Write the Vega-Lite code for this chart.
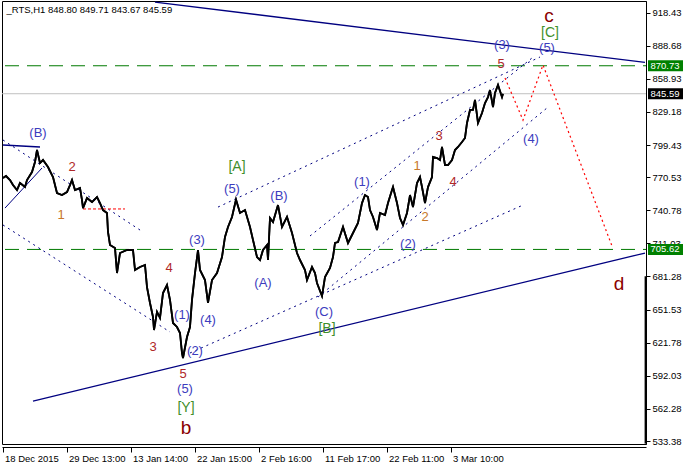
{
 "$schema": "https://vega.github.io/schema/vega-lite/v6.json",
 "width": 644, "height": 443,
 "autosize": {"type": "none"},
 "padding": {"left": 2, "top": 1, "right": 40, "bottom": 26},
 "background": "white",
 "config": {
  "view": {"stroke": "black", "strokeWidth": 1},
  "axis": {"labelFont": "Liberation Sans", "labelFontSize": 9.5, "labelColor": "black", "tickColor": "black", "domainColor": "black", "grid": false, "title": null, "labelOverlap": false, "labelFlush": false, "labelBound": false}
 },
 "title": {"text": "_RTS,H1  848.80 849.71 843.67 845.59", "anchor": "start", "frame": "group", "orient": "top", "offset": -13, "baseline": "top", "dx": 4.5, "font": "Liberation Sans", "fontSize": 9.5, "fontWeight": "normal", "color": "black"},
 "datasets": {
  "price": [
   {"bar":0,"price":769.8},{"bar":3,"price":771.6},{"bar":7,"price":768.0},{"bar":10,"price":763.5},{"bar":14,"price":759.0},{"bar":17,"price":765.3},{"bar":22,"price":761.7},{"bar":24,"price":768.0},{"bar":29,"price":775.2},{"bar":32,"price":784.2},{"bar":34,"price":795.0},{"bar":37,"price":783.3},{"bar":40,"price":786.0},{"bar":45,"price":779.7},{"bar":50,"price":770.7},{"bar":54,"price":756.3},{"bar":59,"price":754.5},{"bar":64,"price":757.2},{"bar":67,"price":763.5},{"bar":69,"price":768.0},{"bar":72,"price":759.0},{"bar":77,"price":760.8},{"bar":79,"price":750.0},{"bar":80,"price":742.8},{"bar":84,"price":751.8},{"bar":89,"price":748.2},{"bar":94,"price":752.7},{"bar":97,"price":747.3},{"bar":100,"price":741.0},{"bar":104,"price":738.4},{"bar":105,"price":721.3},{"bar":107,"price":709.6},{"bar":112,"price":706.9},{"bar":114,"price":684.4},{"bar":117,"price":702.4},{"bar":124,"price":705.1},{"bar":130,"price":705.1},{"bar":132,"price":687.1},{"bar":137,"price":689.8},{"bar":142,"price":691.6},{"bar":144,"price":671.8},{"bar":147,"price":657.5},{"bar":150,"price":644.9},{"bar":151,"price":633.2},{"bar":154,"price":649.4},{"bar":157,"price":644.0},{"bar":160,"price":666.4},{"bar":164,"price":673.6},{"bar":167,"price":660.2},{"bar":170,"price":639.5},{"bar":174,"price":635.9},{"bar":177,"price":630.5},{"bar":179,"price":612.5},{"bar":180,"price":608.0},{"bar":184,"price":626.9},{"bar":187,"price":635.9},{"bar":189,"price":660.2},{"bar":192,"price":684.4},{"bar":195,"price":705.1},{"bar":197,"price":687.1},{"bar":202,"price":678.1},{"bar":205,"price":657.5},{"bar":209,"price":678.1},{"bar":214,"price":684.4},{"bar":219,"price":698.8},{"bar":222,"price":716.8},{"bar":225,"price":725.8},{"bar":229,"price":734.8},{"bar":233,"price":750.5},{"bar":237,"price":738.4},{"bar":242,"price":741.0},{"bar":247,"price":725.8},{"bar":250,"price":714.1},{"bar":254,"price":698.8},{"bar":257,"price":696.1},{"bar":260,"price":705.1},{"bar":264,"price":709.6},{"bar":265,"price":696.1},{"bar":267,"price":733.8},{"bar":270,"price":730.3},{"bar":275,"price":745.5},{"bar":279,"price":725.8},{"bar":284,"price":734.8},{"bar":289,"price":720.4},{"bar":294,"price":702.4},{"bar":297,"price":696.1},{"bar":302,"price":687.1},{"bar":304,"price":678.1},{"bar":309,"price":689.8},{"bar":312,"price":684.4},{"bar":314,"price":675.4},{"bar":319,"price":663.7},{"bar":322,"price":680.8},{"bar":327,"price":688.9},{"bar":330,"price":698.8},{"bar":332,"price":711.4},{"bar":335,"price":712.3},{"bar":340,"price":725.8},{"bar":345,"price":711.4},{"bar":350,"price":720.4},{"bar":355,"price":729.4},{"bar":359,"price":747.3},{"bar":362,"price":754.5},{"bar":365,"price":752.7},{"bar":367,"price":741.0},{"bar":370,"price":734.8},{"bar":374,"price":723.1},{"bar":377,"price":738.4},{"bar":382,"price":736.6},{"bar":385,"price":747.3},{"bar":389,"price":759.0},{"bar":390,"price":761.7},{"bar":394,"price":747.3},{"bar":397,"price":733.8},{"bar":400,"price":727.6},{"bar":404,"price":738.4},{"bar":407,"price":754.5},{"bar":410,"price":743.7},{"bar":414,"price":765.3},{"bar":417,"price":770.7},{"bar":419,"price":761.7},{"bar":422,"price":747.3},{"bar":425,"price":761.7},{"bar":429,"price":770.7},{"bar":430,"price":788.7},{"bar":434,"price":787.8},{"bar":437,"price":786.0},{"bar":439,"price":797.7},{"bar":442,"price":781.5},{"bar":445,"price":781.5},{"bar":449,"price":786.0},{"bar":452,"price":795.0},{"bar":455,"price":797.7},{"bar":459,"price":802.2},{"bar":462,"price":805.8},{"bar":464,"price":819.3},{"bar":467,"price":831.0},{"bar":470,"price":831.0},{"bar":472,"price":840.0},{"bar":475,"price":819.3},{"bar":479,"price":828.3},{"bar":482,"price":837.2},{"bar":485,"price":842.6},{"bar":487,"price":848.9},{"bar":490,"price":833.6},{"bar":492,"price":846.2},{"bar":495,"price":853.4},{"bar":499,"price":842.6},{"bar":500,"price":845.6}
  ],
  "segs": [
   {"seg":"t1","kind":"solid","bar":152,"price":928.0},{"seg":"t1","kind":"solid","bar":642,"price":873.7},
   {"seg":"b1","kind":"solid","bar":30,"price":569.3},{"seg":"b1","kind":"solid","bar":642,"price":702.4},
   {"seg":"h1","kind":"solid","bar":0,"price":799.5},{"seg":"h1","kind":"solid","bar":37,"price":797.7},
   {"seg":"s1","kind":"thin","bar":2,"price":742.8},{"seg":"s1","kind":"thin","bar":39,"price":778.8},
   {"seg":"d1","kind":"dot","bar":0,"price":804.0},{"seg":"d1","kind":"dot","bar":140,"price":721.3},
   {"seg":"d2","kind":"dot","bar":0,"price":727.6},{"seg":"d2","kind":"dot","bar":167,"price":631.4},
   {"seg":"d3","kind":"dot","bar":215,"price":743.7},{"seg":"d3","kind":"dot","bar":537,"price":878.6},
   {"seg":"d4","kind":"dot","bar":307,"price":717.7},{"seg":"d4","kind":"dot","bar":529,"price":877.7},
   {"seg":"d5","kind":"dot","bar":315,"price":662.8},{"seg":"d5","kind":"dot","bar":544,"price":832.8},
   {"seg":"d6","kind":"dot","bar":187,"price":612.5},{"seg":"d6","kind":"dot","bar":520,"price":745.5},
   {"seg":"r1","kind":"reddash","bar":80,"price":742.0},{"seg":"r1","kind":"reddash","bar":122,"price":742.0},
   {"seg":"p1","kind":"proj","bar":502,"price":859.7},{"seg":"p1","kind":"proj","bar":520,"price":821.9},{"seg":"p1","kind":"proj","bar":540,"price":871.4},{"seg":"p1","kind":"proj","bar":609,"price":708.7}
  ],
  "levels": [
   {"price":870.73,"kind":"green"},{"price":705.62,"kind":"green"},{"price":845.59,"kind":"gray"}
  ],
  "labels": [
   {"t":"(B)","kind":"w","bar":35,"price":810.3},
   {"t":"2","kind":"n","bar":69,"price":779.7},
   {"t":"1","kind":"o","bar":58,"price":736.6},
   {"t":"4","kind":"n","bar":166,"price":688.9},
   {"t":"3","kind":"n","bar":150,"price":617.9},
   {"t":"(1)","kind":"w","bar":179,"price":646.6},
   {"t":"(3)","kind":"w","bar":194,"price":714.1},
   {"t":"(4)","kind":"w","bar":205,"price":642.2},
   {"t":"(2)","kind":"w","bar":192,"price":614.3},
   {"t":"5","kind":"n","bar":180,"price":593.6},
   {"t":"(5)","kind":"w","bar":182,"price":580.1},
   {"t":"[Y]","kind":"g","bar":183,"price":563.1},
   {"t":"b","kind":"big","bar":183,"price":545.1},
   {"t":"[A]","kind":"g","bar":234,"price":779.7},
   {"t":"(5)","kind":"w","bar":229,"price":759.9},
   {"t":"(B)","kind":"w","bar":276,"price":753.6},
   {"t":"(A)","kind":"w","bar":260,"price":675.4},
   {"t":"(C)","kind":"w","bar":321,"price":649.4},
   {"t":"[B]","kind":"g","bar":324,"price":634.1},
   {"t":"(1)","kind":"w","bar":359,"price":766.2},
   {"t":"(2)","kind":"w","bar":405,"price":710.5},
   {"t":"1","kind":"o","bar":414,"price":780.6},
   {"t":"2","kind":"o","bar":422,"price":734.8},
   {"t":"3","kind":"n","bar":436,"price":807.6},
   {"t":"4","kind":"n","bar":450,"price":766.2},
   {"t":"5","kind":"n","bar":498,"price":872.3},
   {"t":"(3)","kind":"w","bar":499,"price":889.4},
   {"t":"(5)","kind":"w","bar":544,"price":886.7},
   {"t":"[C]","kind":"g","bar":547,"price":900.6},
   {"t":"c","kind":"big","bar":546,"price":915.6},
   {"t":"(4)","kind":"w","bar":528,"price":804.9},
   {"t":"d","kind":"big","bar":616,"price":674.5}
  ]
 },
 "layer": [
  {"data": {"name": "price"}, "mark": {"type": "line", "color": "black", "strokeWidth": 1.8},
   "encoding": {
    "x": {"field": "bar", "type": "quantitative", "scale": {"domain": [-1, 643], "nice": false, "zero": false},
     "axis": {"orient": "bottom", "values": [0, 64, 128, 192, 256, 320, 384, 448], "tickCount": 20, "labelExpr": "['18 Dec 2015','29 Dec 13:00','13 Jan 14:00','22 Jan 15:00','2 Feb 16:00','11 Feb 17:00','22 Feb 11:00','3 Mar 10:00'][round(datum.value/64)]", "labelAlign": "left", "labelOffset": 1.5, "labelPadding": 1, "tickSize": 5, "offset": 3, "domain": true, "labelFlush": false, "labelOverlap": false, "labelBound": false}},
    "y": {"field": "price", "type": "quantitative", "scale": {"domain": [530.7, 928.95], "nice": false, "zero": false},
     "axis": {"orient": "right", "values": [918.43, 888.68, 858.93, 829.18, 799.43, 770.53, 740.78, 711.03, 681.28, 651.53, 621.78, 592.03, 562.28, 533.38], "tickCount": 30, "format": ".2f", "tickSize": 4, "labelPadding": 2, "labelBaseline": "middle", "labelFlush": false, "labelOverlap": false, "domain": true}}
   }},
  {"data": {"name": "levels"}, "transform": [{"filter": "datum.kind == 'gray'"}], "mark": {"type": "rule", "color": "#c0c0c0", "strokeWidth": 1}, "encoding": {"x": {"datum": -1, "type": "quantitative"}, "x2": {"datum": 643}, "y": {"field": "price", "type": "quantitative"}}},
  {"data": {"name": "levels"}, "transform": [{"filter": "datum.kind == 'green'"}], "mark": {"type": "rule", "color": "#007a00", "strokeWidth": 1, "strokeDash": [14, 8]}, "encoding": {"x": {"datum": 2, "type": "quantitative"}, "x2": {"datum": 643}, "y": {"field": "price", "type": "quantitative"}}},
  {"data": {"name": "segs"}, "transform": [{"filter": "datum.kind == 'solid'"}], "mark": {"type": "line", "color": "#000080", "strokeWidth": 1.3, "clip": true}, "encoding": {"x": {"field": "bar", "type": "quantitative"}, "y": {"field": "price", "type": "quantitative"}, "detail": {"field": "seg"}}},
  {"data": {"name": "segs"}, "transform": [{"filter": "datum.kind == 'thin'"}], "mark": {"type": "line", "color": "#000080", "strokeWidth": 1, "clip": true}, "encoding": {"x": {"field": "bar", "type": "quantitative"}, "y": {"field": "price", "type": "quantitative"}, "detail": {"field": "seg"}}},
  {"data": {"name": "segs"}, "transform": [{"filter": "datum.kind == 'dot'"}], "mark": {"type": "line", "color": "#000080", "strokeWidth": 1, "strokeDash": [2, 4], "clip": true}, "encoding": {"x": {"field": "bar", "type": "quantitative"}, "y": {"field": "price", "type": "quantitative"}, "detail": {"field": "seg"}}},
  {"data": {"name": "segs"}, "transform": [{"filter": "datum.kind == 'reddash'"}], "mark": {"type": "line", "color": "#ff0000", "strokeWidth": 1, "strokeDash": [3, 2]}, "encoding": {"x": {"field": "bar", "type": "quantitative"}, "y": {"field": "price", "type": "quantitative"}, "detail": {"field": "seg"}}},
  {"data": {"name": "segs"}, "transform": [{"filter": "datum.kind == 'proj'"}], "mark": {"type": "line", "color": "#ff0000", "strokeWidth": 1.2, "strokeDash": [2, 3]}, "encoding": {"x": {"field": "bar", "type": "quantitative"}, "y": {"field": "price", "type": "quantitative"}, "detail": {"field": "seg"}, "order": {"field": "bar"}}},
  {"data": {"name": "price"}, "mark": {"type": "line", "color": "black", "strokeWidth": 1.8}, "encoding": {"x": {"field": "bar", "type": "quantitative"}, "y": {"field": "price", "type": "quantitative"}}},
  {"data": {"name": "labels"}, "transform": [{"filter": "datum.kind == 'w'"}], "mark": {"type": "text", "font": "Liberation Sans", "fontSize": 13, "color": "#3c3cbe", "align": "center", "baseline": "middle"}, "encoding": {"x": {"field": "bar", "type": "quantitative"}, "y": {"field": "price", "type": "quantitative"}, "text": {"field": "t"}}},
  {"data": {"name": "labels"}, "transform": [{"filter": "datum.kind == 'g'"}], "mark": {"type": "text", "font": "Liberation Sans", "fontSize": 14, "color": "#3f8f2a", "align": "center", "baseline": "middle"}, "encoding": {"x": {"field": "bar", "type": "quantitative"}, "y": {"field": "price", "type": "quantitative"}, "text": {"field": "t"}}},
  {"data": {"name": "labels"}, "transform": [{"filter": "datum.kind == 'n'"}], "mark": {"type": "text", "font": "Liberation Sans", "fontSize": 13, "color": "#b02828", "align": "center", "baseline": "middle"}, "encoding": {"x": {"field": "bar", "type": "quantitative"}, "y": {"field": "price", "type": "quantitative"}, "text": {"field": "t"}}},
  {"data": {"name": "labels"}, "transform": [{"filter": "datum.kind == 'o'"}], "mark": {"type": "text", "font": "Liberation Sans", "fontSize": 13, "color": "#c8782a", "align": "center", "baseline": "middle"}, "encoding": {"x": {"field": "bar", "type": "quantitative"}, "y": {"field": "price", "type": "quantitative"}, "text": {"field": "t"}}},
  {"data": {"name": "labels"}, "transform": [{"filter": "datum.kind == 'big'"}], "mark": {"type": "text", "font": "Liberation Sans", "fontSize": 19, "color": "#8b0000", "align": "center", "baseline": "middle"}, "encoding": {"x": {"field": "bar", "type": "quantitative"}, "y": {"field": "price", "type": "quantitative"}, "text": {"field": "t"}}},
  {"data": {"name": "levels"}, "transform": [{"filter": "datum.kind == 'gray'"}], "mark": {"type": "rule", "color": "black", "strokeWidth": 2}, "encoding": {"x": {"datum": 642.6, "type": "quantitative"}, "y": {"datum": 681.5, "type": "quantitative"}, "y2": {"datum": 531.0}}},
  {"data": {"name": "levels"}, "transform": [{"filter": "datum.kind == 'green'"}], "mark": {"type": "rule", "color": "#008000", "strokeWidth": 11, "strokeCap": "butt"}, "encoding": {"x": {"datum": 645, "type": "quantitative"}, "x2": {"datum": 680}, "y": {"field": "price", "type": "quantitative"}}},
  {"data": {"name": "levels"}, "transform": [{"filter": "datum.kind == 'gray'"}], "mark": {"type": "rule", "color": "black", "strokeWidth": 11, "strokeCap": "butt"}, "encoding": {"x": {"datum": 645, "type": "quantitative"}, "x2": {"datum": 680}, "y": {"field": "price", "type": "quantitative"}}},
  {"data": {"name": "levels"}, "mark": {"type": "text", "font": "Liberation Sans", "fontSize": 9.5, "color": "white", "align": "left", "baseline": "middle"}, "encoding": {"x": {"datum": 647.5, "type": "quantitative"}, "y": {"field": "price", "type": "quantitative"}, "text": {"field": "price", "type": "quantitative", "format": ".2f"}}}
 ]
}
